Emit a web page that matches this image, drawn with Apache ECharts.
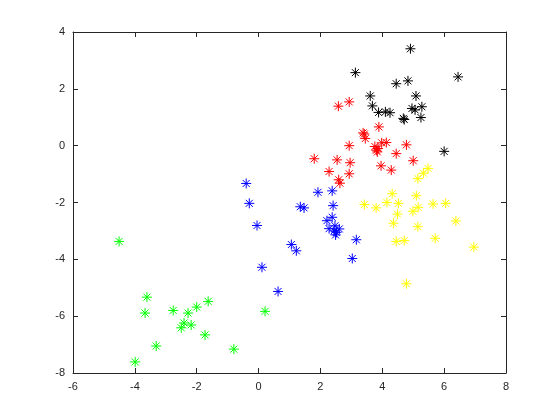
<!DOCTYPE html>
<html>
<head>
<meta charset="utf-8">
<script src="https://cdn.jsdelivr.net/npm/echarts@6/dist/echarts.min.js"></script>
<style>
  html, body { margin: 0; padding: 0; background: #fff; }
  #chart { width: 560px; height: 420px; }
</style>
</head>
<body>
<div id="chart"></div>
<script>
// points, [x, y]
const blackPts = [[4.91, 3.41], [3.13, 2.57], [6.45, 2.42], [4.45, 2.18], [4.83, 2.28], [3.61, 1.75],
  [5.09, 1.75], [3.68, 1.40], [3.88, 1.17], [4.10, 1.19], [4.25, 1.16], [4.96, 1.31], [5.06, 1.26],
  [5.28, 1.37], [5.25, 0.99], [4.68, 0.96], [4.71, 0.92], [6.00, -0.20]]
const redPts = [[2.58, 1.39], [2.93, 1.54], [3.89, 0.66], [3.38, 0.45], [3.42, 0.41], [3.45, 0.25],
  [2.93, 0.00], [3.76, -0.03], [3.81, -0.16], [3.84, -0.22], [3.86, -0.10], [3.98, 0.10], [4.13, 0.11],
  [4.78, 0.03], [4.45, -0.28], [5.00, -0.53], [1.80, -0.46], [2.54, -0.50], [2.96, -0.60], [3.96, -0.71],
  [4.29, -0.86], [2.28, -0.91], [2.93, -0.99], [2.59, -1.20], [2.63, -1.32]]
const bluePts = [[-0.40, -1.33], [-0.30, -2.03], [-0.05, -2.81], [1.92, -1.64], [2.38, -1.59], [1.35, -2.15],
  [1.47, -2.19], [2.41, -2.11], [2.21, -2.64], [2.38, -2.52], [2.28, -2.92], [2.47, -2.82], [2.61, -2.93],
  [2.44, -3.00], [2.49, -3.14], [2.52, -3.05], [3.16, -3.31], [1.06, -3.48], [1.22, -3.70], [3.03, -3.97],
  [0.11, -4.28], [0.63, -5.13]]
const yellowPts = [[5.48, -0.80], [5.33, -0.97], [5.15, -1.16], [4.32, -1.69], [5.10, -1.76], [3.42, -2.07],
  [3.80, -2.19], [4.15, -2.00], [4.52, -2.03], [5.64, -2.05], [6.05, -2.03], [5.16, -2.17], [4.99, -2.31],
  [4.49, -2.41], [4.36, -2.73], [5.15, -2.85], [6.38, -2.65], [5.71, -3.26], [4.45, -3.37], [4.71, -3.34],
  [6.96, -3.57], [4.78, -4.86]]
const greenPts = [[-4.51, -3.37], [-3.61, -5.33], [-3.67, -5.89], [-2.76, -5.80], [-2.28, -5.89], [-2.00, -5.68],
  [-1.63, -5.48], [-2.41, -6.24], [-2.50, -6.41], [-2.18, -6.31], [-1.73, -6.66], [-3.31, -7.05],
  [-0.80, -7.16], [-3.99, -7.61], [0.21, -5.83]]

const groups = [
  {name: 'black', color: '#000000', data: blackPts},
  {name: 'red', color: '#ff0000', data: redPts},
  {name: 'blue', color: '#0000ff', data: bluePts},
  {name: 'yellow', color: '#ffff00', data: yellowPts},
  {name: 'green', color: '#00ff00', data: greenPts}
]

// matlab style '*' marker
const star = 'path://M5,0 L5,10 M0,5 L10,5 M1.5,1.5 L8.5,8.5 M1.5,8.5 L8.5,1.5'

const lineCol = '#262626'
const font = 'Liberation Sans, Arial, sans-serif'

function xAx (pos, showLabels) {
  return {
    type: 'value', position: pos, min: -6, max: 8, interval: 2,
    axisLine: {show: true, onZero: false, lineStyle: {color: lineCol, width: 1}},
    axisTick: {show: true, inside: true, length: 5, lineStyle: {color: lineCol}},
    axisLabel: {show: showLabels, color: lineCol, fontSize: 11, fontFamily: font, margin: 8},
    splitLine: {show: false}
  }
}
function yAx (pos, showLabels) {
  return {
    type: 'value', position: pos, min: -8, max: 4, interval: 2,
    axisLine: {show: true, onZero: false, lineStyle: {color: lineCol, width: 1}},
    axisTick: {show: true, inside: true, length: 5, lineStyle: {color: lineCol}},
    axisLabel: {show: showLabels, color: lineCol, fontSize: 11, fontFamily: font, margin: 8},
    splitLine: {show: false}
  }
}

let myChart = echarts.init(document.getElementById('chart'), null, {renderer: 'canvas'})
let option = {
  animation: false,
  backgroundColor: '#ffffff',
  grid: {left: 73, right: 54, top: 32, bottom: 47},
  xAxis: [xAx('bottom', true), xAx('top', false)],
  yAxis: [yAx('left', true), yAx('right', false)],
  series: groups.map(g => ({
    name: g.name,
    type: 'scatter',
    data: g.data,
    symbol: star,
    symbolSize: 10,
    itemStyle: {color: 'none', borderColor: g.color, borderWidth: 1, opacity: 1}
  }))
}
myChart.setOption(option, true)
</script>
</body>
</html>
